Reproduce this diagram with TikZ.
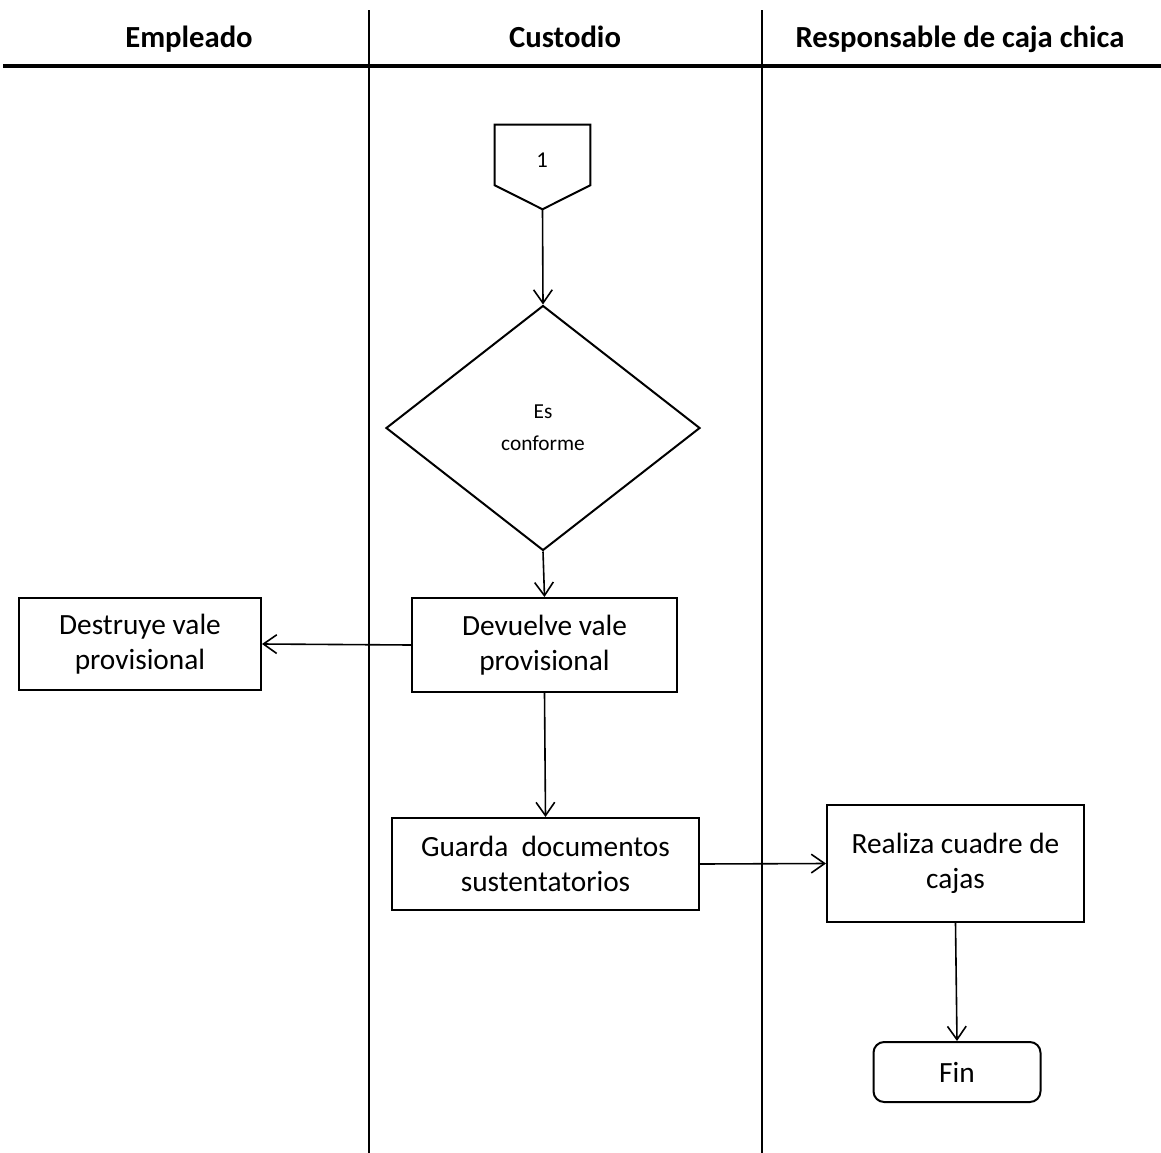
\documentclass[tikz,border=0pt]{standalone}
\usepackage{fontspec}
\setmainfont{Carlito}
\usetikzlibrary{shapes.geometric,arrows.meta,calc}
\begin{document}
\begin{tikzpicture}[x=0.75pt,y=-0.75pt,
  box/.style={draw,line width=1.5pt,align=center,inner sep=2pt,font=\fontsize{22}{26}\selectfont},
  arr/.style={line width=1.2pt,-{Straight Barb[length=10pt,width=14pt,line width=1.2pt]}},
  lane/.style={line width=1.6pt},
  head/.style={anchor=base,font=\bfseries\fontsize{23}{26}\selectfont}]
\useasboundingbox (0,0) rectangle (1161,1153);
% lanes
\draw[lane] (369,10) -- (369,1153);
\draw[lane] (762,10) -- (762,1153);
\draw[line width=2.4pt] (3,66) -- (1161,66);
\node[head] (h1) at (189,47) {Empleado};
\node[head] (h2) at (565,47) {Custodio};
\node[head] (h3) at (960,47) {Responsable de caja chica};
% off-page connector
\node[minimum width=71.25pt,minimum height=45pt,inner sep=0pt] (off) at (542.5,155) {};
\node[font=\fontsize{17}{18}\selectfont,inner sep=0pt] (one) at (542,160) {1};
\coordinate (offtip) at ($(off.south)+(0,-18pt)$);
\draw[line width=1.5pt] (off.south west) -- (off.north west) -- (off.north east) -- (off.south east) -- (offtip) -- cycle;
% decision
\node[draw,diamond,line width=1.5pt,minimum width=235.5pt,minimum height=183.75pt,inner sep=0pt,align=center,font=\fontsize{16}{24}\selectfont] (dec) at (543,428) {Es\\conforme};
% boxes
\node[box,minimum width=198.75pt,minimum height=70.5pt] (dev) at (544.5,645) {Devuelve vale\\provisional};
\node[box,minimum width=181.5pt,minimum height=69pt] (des) at (140,644) {Destruye vale\\provisional};
\node[box,minimum width=230.25pt,minimum height=69pt] (gua) at (545.5,864) {Guarda\ \ documentos\\sustentatorios};
\node[box,minimum width=192.75pt,minimum height=87.75pt] (rea) at (955.5,863.5) {Realiza cuadre de\\cajas};
\node[box,rounded corners=8pt,minimum width=125.25pt,minimum height=45pt] (fin) at (957,1072) {Fin};
% connectors
\draw[arr] (offtip) -- (dec.north);
\draw[arr] (dec.south) -- (dev.north);
\draw[arr] (dev.west) -- (des.east);
\draw[arr] (dev.south) -- (gua.north);
\draw[arr] (gua.east) -- (rea.west);
\draw[arr] (rea.south) -- (fin.north);
\end{tikzpicture}
\end{document}
